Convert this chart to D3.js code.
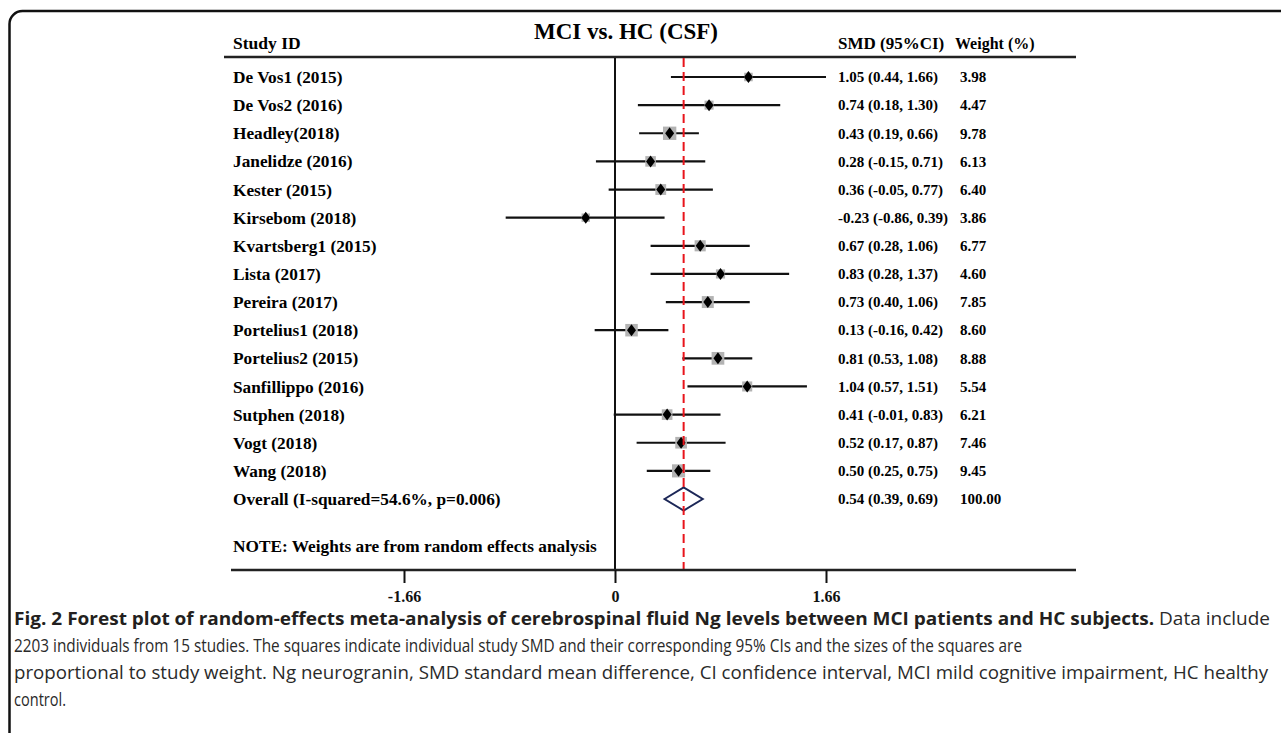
<!DOCTYPE html>
<html>
<head>
<meta charset="utf-8">
<script src="https://cdn.jsdelivr.net/npm/d3@7"></script>
<style>
  body { margin: 0; background: #fff; }
  svg { display: block; }
</style>
</head>
<body>
<script>
// Forest plot, MCI vs HC (CSF)

var studies = ["De Vos1 (2015)", "De Vos2 (2016)", "Headley(2018)", "Janelidze (2016)", "Kester (2015)",
  "Kirsebom (2018)", "Kvartsberg1 (2015)", "Lista (2017)", "Pereira (2017)", "Portelius1 (2018)",
  "Portelius2 (2015)", "Sanfillippo (2016)", "Sutphen (2018)", "Vogt (2018)", "Wang (2018)"];
var smd = [1.05, 0.74, 0.43, 0.28, 0.36, -0.23, 0.67, 0.83, 0.73, 0.13, 0.81, 1.04, 0.41, 0.52, 0.50];
var ciLow = [0.44, 0.18, 0.19, -0.15, -0.05, -0.86, 0.28, 0.28, 0.40, -0.16, 0.53, 0.57, -0.01, 0.17, 0.25];
var ciHigh = [1.66, 1.30, 0.66, 0.71, 0.77, 0.39, 1.06, 1.37, 1.06, 0.42, 1.08, 1.51, 0.83, 0.87, 0.75];
var weights = [3.98, 4.47, 9.78, 6.13, 6.40, 3.86, 6.77, 4.60, 7.85, 8.60, 8.88, 5.54, 6.21, 7.46, 9.45];

var overallLabel = "Overall (I-squared=54.6%, p=0.006)";
var overallSmd = 0.54, overallLow = 0.39, overallHigh = 0.69, overallWeight = 100;

var xTicks = [-1.66, 0, 1.66];

var captionBold = "Fig. 2 Forest plot of random-effects meta-analysis of cerebrospinal fluid Ng levels between MCI patients and HC subjects.";
var captionLines = [
  " Data include",
  "2203 individuals from 15 studies. The squares indicate individual study SMD and their corresponding 95% CIs and the sizes of the squares are",
  "proportional to study weight. Ng neurogranin, SMD standard mean difference, CI confidence interval, MCI mild cognitive impairment, HC healthy",
  "control."
];

var serif = "'Times New Roman', 'Liberation Serif', serif";
var fmt = function(v){ return v.toFixed(2); };

var svg = d3.select("body").append("svg").attr("width", 1281).attr("height", 733);

// frame (cut off at right and bottom like the page crop)
svg.append("rect")
  .attr("x", 9.5).attr("y", 11).attr("width", 1320).attr("height", 760)
  .attr("rx", 13).attr("ry", 13)
  .style("fill", "none").style("stroke", "#111").style("stroke-width", 2.5);

var rows = studies.concat([overallLabel]);
var x = d3.scaleLinear().domain([-1.66, 1.66]).range([404, 826]);
var y = d3.scalePoint().domain(rows).range([77, 499]);
var sq = d3.scaleSqrt().domain([0, 10]).range([0, 13.5]);

var axisY = 570, topY = 58;

// headers
svg.append("text").attr("x", 233).attr("y", 43).attr("dy", "0.35em")
  .style("font-family", serif).style("font-weight", "bold").style("font-size", "17.5px")
  .text("Study ID");
svg.append("text").attr("x", 626).attr("y", 31).attr("dy", "0.35em").attr("text-anchor", "middle")
  .style("font-family", serif).style("font-weight", "bold").style("font-size", "23px")
  .text("MCI vs. HC (CSF)");
svg.append("text").attr("x", 838).attr("y", 43).attr("dy", "0.35em")
  .style("font-family", serif).style("font-weight", "bold").style("font-size", "17px")
  .text("SMD (95%CI)");
svg.append("text").attr("x", 955).attr("y", 43).attr("dy", "0.35em")
  .style("font-family", serif).style("font-weight", "bold").style("font-size", "16px")
  .text("Weight (%)");
svg.append("line").attr("x1", 224).attr("x2", 1076).attr("y1", 57).attr("y2", 57)
  .style("stroke", "#222").style("stroke-width", 2.5);

// no-effect line
svg.append("line").attr("x1", x(0)).attr("x2", x(0)).attr("y1", topY).attr("y2", axisY)
  .style("stroke", "#111").style("stroke-width", 2);

var data = studies.map(function(s, i){
  return {name: s, smd: smd[i], lo: ciLow[i], hi: ciHigh[i], w: weights[i]};
});

var plotG = svg.append("g");

plotG.selectAll(".ci")
  .data(data)
  .enter()
  .append("line")
  .attr("class", "ci")
  .attr("x1", function(d){ return x(d.lo); })
  .attr("x2", function(d){ return x(d.hi); })
  .attr("y1", function(d){ return y(d.name); })
  .attr("y2", function(d){ return y(d.name); })
  .style("stroke", "#111")
  .style("stroke-width", 2.2);

plotG.selectAll(".box")
  .data(data)
  .enter()
  .append("rect")
  .attr("class", "box")
  .attr("x", function(d){ return x(d.smd) - sq(d.w) / 2; })
  .attr("y", function(d){ return y(d.name) - sq(d.w) / 2; })
  .attr("width", function(d){ return sq(d.w); })
  .attr("height", function(d){ return sq(d.w); })
  .style("fill", "#b3b3b3");

plotG.selectAll(".pt")
  .data(data)
  .enter()
  .append("path")
  .attr("class", "pt")
  .attr("d", function(d){
    var cx = x(d.smd), cy = y(d.name);
    return "M" + cx + "," + (cy - 6) + "L" + (cx + 4.5) + "," + cy + "L" + cx + "," + (cy + 6) + "L" + (cx - 4.5) + "," + cy + "Z";
  })
  .style("fill", "#000");

// overall diamond
var oy = y(overallLabel);
svg.append("path")
  .attr("d", "M" + x(overallLow) + "," + oy + "L" + x(overallSmd) + "," + (oy - 11.5) +
    "L" + x(overallHigh) + "," + oy + "L" + x(overallSmd) + "," + (oy + 11.5) + "Z")
  .style("fill", "#fff").style("stroke", "#1c2757").style("stroke-width", 2);

// pooled estimate line
svg.append("line").attr("x1", x(overallSmd)).attr("x2", x(overallSmd)).attr("y1", topY).attr("y2", axisY)
  .style("stroke", "#e8141b").style("stroke-width", 2).style("stroke-dasharray", "9,5");

// row labels and numbers
svg.selectAll(".lab")
  .data(rows)
  .enter()
  .append("text")
  .attr("class", "lab")
  .attr("x", 233)
  .attr("y", function(d){ return y(d); })
  .attr("dy", "0.35em")
  .style("font-family", serif).style("font-weight", "bold").style("font-size", "17.3px")
  .text(function(d){ return d; });

var tableRows = data.map(function(d){
  return {name: d.name, ci: fmt(d.smd) + " (" + fmt(d.lo) + ", " + fmt(d.hi) + ")", w: fmt(d.w)};
});
tableRows.push({name: overallLabel, ci: fmt(overallSmd) + " (" + fmt(overallLow) + ", " + fmt(overallHigh) + ")", w: fmt(overallWeight)});

svg.selectAll(".cival")
  .data(tableRows)
  .enter()
  .append("text")
  .attr("class", "cival")
  .attr("x", 838)
  .attr("y", function(d){ return y(d.name); })
  .attr("dy", "0.35em")
  .style("font-family", serif).style("font-weight", "bold").style("font-size", "15px")
  .text(function(d){ return d.ci; });

svg.selectAll(".wval")
  .data(tableRows)
  .enter()
  .append("text")
  .attr("class", "wval")
  .attr("x", 960)
  .attr("y", function(d){ return y(d.name); })
  .attr("dy", "0.35em")
  .style("font-family", serif).style("font-weight", "bold").style("font-size", "15px")
  .text(function(d){ return d.w; });

svg.append("text").attr("x", 233).attr("y", 546).attr("dy", "0.35em")
  .style("font-family", serif).style("font-weight", "bold").style("font-size", "17.3px")
  .text("NOTE: Weights are from random effects analysis");

// x axis
svg.append("line").attr("x1", 231).attr("x2", 1076).attr("y1", axisY).attr("y2", axisY)
  .style("stroke", "#222").style("stroke-width", 2.5);

var xAxis = d3.axisBottom(x).tickValues(xTicks).tickSize(13)
  .tickFormat(function(d){ return d === 0 ? "0" : d.toFixed(2); });
var axisG = svg.append("g").attr("transform", "translate(0," + axisY + ")").call(xAxis);
axisG.select(".domain").remove();
axisG.selectAll(".tick line").style("stroke", "#111").style("stroke-width", 2);
axisG.selectAll(".tick text")
  .attr("y", 26).attr("dy", "0.35em")
  .style("font-family", serif).style("font-weight", "bold").style("font-size", "16px").style("fill", "#111");

// caption
var sans = "'Open Sans', 'Noto Sans', sans-serif";
var capY = [619, 646, 673, 700];
var capWidths = [1256, 1008, 1254, 52];

var line1 = svg.append("text").attr("x", 14).attr("y", capY[0]).attr("dy", "0.35em")
  .attr("textLength", capWidths[0]).attr("lengthAdjust", "spacingAndGlyphs")
  .style("font-family", sans).style("font-size", "18px").style("fill", "#2a2a2a");
line1.append("tspan").style("font-weight", "bold").style("fill", "#231f20").text(captionBold);
line1.append("tspan").text(captionLines[0]);

svg.selectAll(".cap")
  .data(captionLines.slice(1))
  .enter()
  .append("text")
  .attr("class", "cap")
  .attr("x", 14)
  .attr("y", function(d, i){ return capY[i + 1]; })
  .attr("dy", "0.35em")
  .attr("textLength", function(d, i){ return capWidths[i + 1]; })
  .attr("lengthAdjust", "spacingAndGlyphs")
  .style("font-family", sans).style("font-size", "18px").style("fill", "#2a2a2a")
  .text(function(d){ return d; });
</script>
</body>
</html>
